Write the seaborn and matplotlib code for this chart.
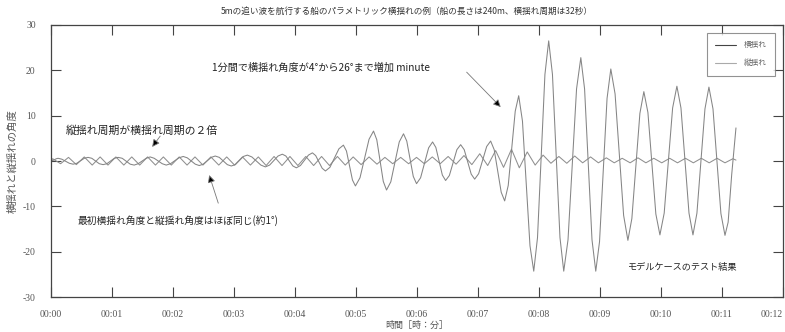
"""
パラメトリック横揺れの例 — 横揺れ・縦揺れ時系列
"""

import pandas as pd
import matplotlib
matplotlib.use("Agg")
import matplotlib.pyplot as plt
from matplotlib.lines import Line2D
import seaborn as sns


# ─────────────────────────────────────────────
# データ（図から読み取った値、時間は秒）
# ─────────────────────────────────────────────
ROLL_T = [0.0, 1.7, 5.2, 6.9, 10.6, 18.0, 21.7, 25.4, 32.7, 36.4,
          40.1, 47.5, 51.2, 54.9, 62.3, 66.0, 70.0, 77.9, 81.8, 85.7,
          93.6, 97.5, 101.5, 109.4, 113.3, 117.5, 125.8, 130.0, 134.0, 141.9,
          145.8, 149.7, 157.6, 161.5, 165.5, 173.4, 177.3, 181.3, 189.2, 193.1,
          197.5, 206.4, 210.8, 215.0, 223.3, 227.5, 231.0, 237.9, 241.3, 245.3,
          253.2, 257.1, 260.3, 266.7, 269.9, 274.3, 283.2, 287.6, 290.6, 296.5,
          299.4, 303.9, 312.8, 317.2, 320.4, 326.8, 330.0, 334.2, 342.5, 346.7,
          349.9, 356.3, 359.5, 363.5, 371.4, 375.3, 378.5, 384.9, 388.1, 391.8,
          399.2, 402.9, 406.4, 413.3, 416.7, 420.6, 428.5, 432.4, 435.9, 442.8,
          446.2, 449.7, 456.6, 460.0, 463.7, 471.1, 474.8, 478.5, 485.8, 489.5,
          493.2, 500.6, 504.3, 508.5, 516.9, 521.1, 524.8, 532.1, 535.8, 539.5,
          546.9, 550.6, 554.8, 563.2, 567.4, 571.3, 579.2, 583.1, 587.1, 594.9,
          598.9, 603.1, 611.4, 615.6, 619.6, 627.5, 631.4, 635.3, 643.2, 647.1,
          651.1, 658.9, 662.9, 666.0, 669.5, 673.7]
ROLL_V = [0.0, 0.1, 0.5, 0.6, 0.4, -0.5, -0.7, -0.5, 0.6, 0.8,
          0.6, -0.6, -0.8, -0.6, 0.6, 0.8, 0.6, -0.7, -0.9, -0.6,
          0.6, 0.9, 0.6, -0.6, -0.9, -0.6, 0.7, 1.0, 0.7, -0.7,
          -1.0, -0.7, 0.8, 1.1, 0.8, -0.8, -1.1, -0.8, 1.0, 1.3,
          0.9, -0.9, -1.3, -0.9, 1.1, 1.5, 1.1, -1.1, -1.5, -1.0,
          1.3, 1.8, 1.2, -1.6, -2.2, -1.4, 2.7, 3.5, 2.2, -4.2,
          -5.5, -3.7, 4.8, 6.6, 4.7, -4.5, -6.4, -4.6, 4.2, 6.0,
          4.4, -3.4, -5.0, -3.7, 2.9, 4.2, 3.0, -3.1, -4.3, -3.2,
          2.5, 3.6, 2.5, -2.9, -4.0, -2.8, 3.2, 4.4, 2.5, -6.9,
          -8.8, -5.4, 11.0, 14.4, 8.8, -18.7, -24.3, -16.9, 19.1, 26.5,
          19.1, -16.9, -24.3, -17.4, 15.9, 22.8, 15.9, -17.4, -24.3, -17.8,
          13.8, 20.3, 14.8, -12.0, -17.5, -12.7, 10.5, 15.3, 10.7, -11.7,
          -16.3, -11.5, 11.7, 16.5, 11.7, -11.5, -16.3, -11.5, 11.5, 16.3,
          11.5, -11.6, -16.4, -13.5, -3.0, 7.3]

PITCH_T = [0.0, 1.6, 9.4, 17.2, 24.9, 32.7, 40.5, 48.3, 56.0, 63.8,
           71.6, 79.4, 87.2, 95.0, 102.7, 110.5, 118.3, 126.1, 133.8, 141.6,
           149.4, 157.2, 165.0, 172.8, 180.5, 188.3, 196.1, 203.9, 211.6, 219.4,
           227.2, 235.0, 242.8, 250.6, 258.3, 266.1, 273.9, 281.7, 289.4, 297.2,
           305.0, 312.8, 320.6, 328.4, 336.1, 343.9, 351.7, 359.5, 367.2, 375.0,
           382.8, 390.6, 398.4, 406.2, 413.9, 421.7, 429.5, 437.3, 445.1, 452.9,
           460.6, 468.4, 476.2, 484.0, 491.7, 499.5, 507.3, 515.1, 522.9, 530.7,
           538.4, 546.2, 554.0, 561.8, 569.6, 577.3, 585.1, 592.9, 600.7, 608.5,
           616.2, 624.0, 631.8, 639.6, 647.4, 655.1, 662.9, 670.7, 673.7]
PITCH_V = [0.0, 0.5, -0.6, 0.8, -0.8, 0.9, -0.9, 0.9, -0.9, 0.9,
           -0.9, 0.9, -0.9, 0.9, -0.9, 0.9, -0.9, 0.9, -0.9, 0.9,
           -0.9, 0.9, -0.9, 0.9, -0.9, 0.9, -0.9, 0.9, -1.0, 1.0,
           -1.0, 1.0, -1.0, 1.0, -1.0, 1.0, -1.0, 1.0, -0.9, 0.9,
           -0.8, 0.9, -0.7, 0.8, -0.6, 0.8, -0.6, 0.8, -0.6, 0.9,
           -0.6, 1.0, -0.7, 1.2, -0.8, 1.6, -1.0, 2.3, -1.4, 2.6,
           -1.5, 2.0, -0.9, 1.3, -0.5, 1.0, -0.5, 1.1, -0.4, 0.9,
           -0.4, 0.7, -0.4, 0.6, -0.4, 0.7, -0.4, 0.6, -0.4, 0.6,
           -0.4, 0.6, -0.4, 0.6, -0.4, 0.6, -0.4, 0.5, 0.2]

X_TICKS = [0, 60, 120, 180, 240, 300, 360, 420, 480, 540, 600, 660, 720]
X_LABELS = ["00:00", "00:01", "00:02", "00:03", "00:04", "00:05", "00:06",
            "00:07", "00:08", "00:09", "00:10", "00:11", "00:12"]
Y_TICKS = [-30, -20, -10, 0, 10, 20, 30]

TITLE = "5mの追い波を航行する船のパラメトリック横揺れの例（船の長さは240m、横揺れ周期は32秒）"
JP = ["Noto Sans CJK JP", "DejaVu Sans"]
SERIF = ["Liberation Serif", "DejaVu Serif"]


def main():
    sns.set_style("ticks")
    plt.rcParams["font.family"] = JP

    df_roll = pd.DataFrame({"t": ROLL_T, "v": ROLL_V})
    df_pitch = pd.DataFrame({"t": PITCH_T, "v": PITCH_V})

    fig = plt.figure(figsize=(7.85, 3.32), dpi=100)
    ax = fig.add_axes([0.065, 0.1054, 0.9325, 0.8193])

    sns.lineplot(data=df_pitch, x="t", y="v", ax=ax, color="#8f8f8f",
                 lw=0.75, sort=False, legend=False)
    sns.lineplot(data=df_roll, x="t", y="v", ax=ax, color="#858585",
                 lw=0.75, sort=False, legend=False)

    ax.set_xlim(0, 720)
    ax.set_ylim(-30, 30)
    ax.set_xticks(X_TICKS)
    ax.set_xticklabels(X_LABELS, family=SERIF, fontsize=7, color="#555555")
    ax.get_xticklabels()[-1].set_ha("right")
    ax.set_yticks(Y_TICKS)
    ax.set_yticklabels([str(v) for v in Y_TICKS], family=SERIF, fontsize=7,
                       color="#555555")
    ax.tick_params(axis="both", direction="in", length=7, width=0.8,
                   color="#444444", top=True, right=True)
    ax.tick_params(axis="x", pad=9)
    ax.tick_params(axis="y", pad=11)
    for s in ax.spines.values():
        s.set_color("#444444")
        s.set_linewidth(0.9)

    ax.set_xlabel("時間［時：分］", fontsize=6.5, color="#555555", labelpad=2)
    ax.set_ylabel("横揺れと縦揺れの角度", fontsize=7.5, color="#555555",
                  labelpad=4)
    fig.text(0.518, 0.966, TITLE, ha="center", va="center", fontsize=6.2,
             style="italic", color="#333333")

    # 凡例
    handles = [Line2D([], [], color="#444444", lw=0.8),
               Line2D([], [], color="#aaaaaa", lw=0.8)]
    leg = ax.legend(handles, ["横揺れ", "縦揺れ"], loc="upper right",
                    bbox_to_anchor=(0.989, 0.9706), fontsize=5.5,
                    frameon=True, fancybox=False, borderpad=1.1,
                    labelspacing=1.3, handlelength=2.7, handletextpad=1.0,
                    borderaxespad=0)
    leg.get_frame().set_edgecolor("#777777")
    leg.get_frame().set_linewidth(0.8)
    for txt in leg.get_texts():
        txt.set_color("#666666")

    # 注釈
    arrow = dict(arrowstyle="-|>", ec="#777777", fc="black", lw=0.6,
                 mutation_scale=11, shrinkA=0, shrinkB=0)
    ax.text(158.6, 20.5, "1分間で横揺れ角度が4°から26°まで増加 minute",
            ha="left", va="center", fontsize=7.3, color="#222222")
    ax.annotate("", xy=(442.3, 11.9), xytext=(408.8, 19.6), arrowprops=arrow)

    ax.text(14.8, 6.6, "縦揺れ周期が横揺れ周期の２倍", ha="left", va="center",
            fontsize=7.8, color="#222222")
    ax.annotate("", xy=(99.5, 3.1), xytext=(107.4, 5.5), arrowprops=arrow)

    ax.text(25.6, -13.2, "最初横揺れ角度と縦揺れ角度はほぼ同じ(約1°)",
            ha="left", va="center", fontsize=7, color="#222222")
    ax.annotate("", xy=(155.6, -3.1), xytext=(164.5, -9.3), arrowprops=arrow)

    ax.text(567.4, -23.4, "モデルケースのテスト結果", ha="left", va="center",
            fontsize=6.6, style="italic", color="#222222")

    fig.savefig("out.png", dpi=100)
    plt.close(fig)


if __name__ == "__main__":
    main()
